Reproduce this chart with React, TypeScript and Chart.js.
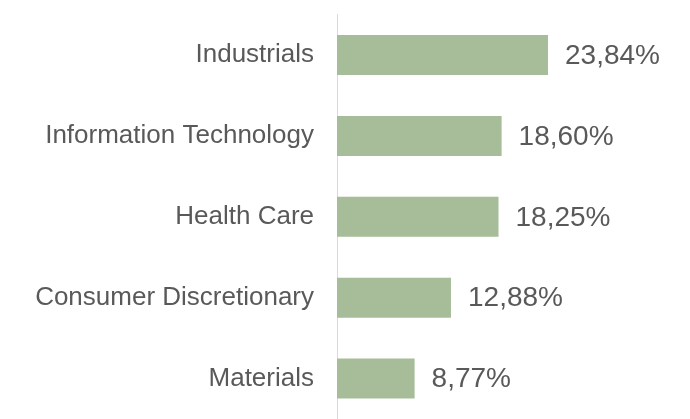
import React, { useEffect, useRef } from "react";
import { Chart, registerables } from "chart.js";

Chart.register(...registerables);

const categories = ["Industrials", "Information Technology", "Health Care", "Consumer Discretionary", "Materials"];
const values = [23.84, 18.6, 18.25, 12.88, 8.77];
const valueLabels = ["23,84%", "18,60%", "18,25%", "12,88%", "8,77%"];

const TEXT = "#595959";
const BAR = "#a7bd99";

const valueLabelPlugin = {
  id: "valueLabels",
  afterDatasetsDraw(chart: any) {
    const ctx = chart.ctx;
    const meta = chart.getDatasetMeta(0);
    ctx.save();
    ctx.font = "28px 'Liberation Sans', Arial, sans-serif";
    ctx.fillStyle = TEXT;
    ctx.textAlign = "left";
    ctx.textBaseline = "middle";
    meta.data.forEach((el: any, i: number) => {
      ctx.fillText(valueLabels[i], el.x + 17, el.y + 1);
    });
    ctx.restore();
  },
};

export default function App() {
  const ref = useRef<HTMLCanvasElement>(null);
  useEffect(() => {
    if (!ref.current) return;
    const chart = new Chart(ref.current, {
      type: "bar",
      data: {
        labels: categories,
        datasets: [
          {
            data: values,
            backgroundColor: BAR,
            borderWidth: 0,
            categoryPercentage: 1,
            barPercentage: 0.495,
          },
        ],
      },
      options: {
        indexAxis: "y",
        responsive: false,
        animation: false,
        layout: { padding: { top: 14.6, bottom: 0, left: 0, right: 87.5 } },
        plugins: { legend: { display: false }, tooltip: { enabled: false } },
        scales: {
          x: { display: false, min: 0, max: 30 },
          y: {
            grid: { display: false, drawTicks: false },
            border: { display: true, color: "#d9d9d9", width: 1 },
            ticks: {
              color: TEXT,
              padding: 23,
              font: { family: "'Liberation Sans', Arial, sans-serif", size: 26 },
            },
            afterFit(scale: any) {
              scale.width = 337;
              scale.paddingTop = 0;
              scale.paddingBottom = 0;
            },
          },
        },
      },
      plugins: [valueLabelPlugin],
    });
    return () => chart.destroy();
  }, []);
  return (
    <div style={{ position: "fixed", left: 0, top: 0, width: 690, height: 419, background: "#fff" }}>
      <canvas ref={ref} width={690} height={419} style={{ width: 690, height: 419 }} />
    </div>
  );
}
